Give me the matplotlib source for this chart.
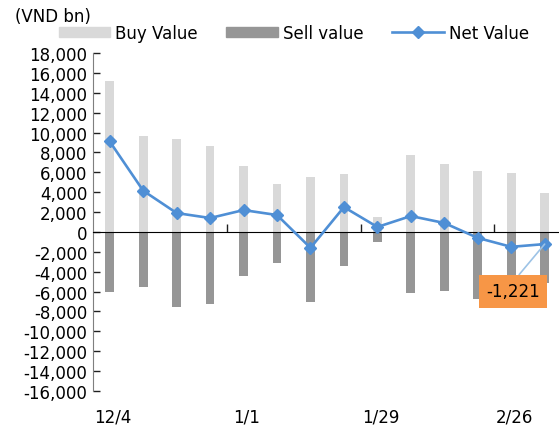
import numpy as np
import matplotlib
matplotlib.use('Agg')
import matplotlib.pyplot as plt
from matplotlib.patches import Patch
from matplotlib.lines import Line2D

plt.rcParams['font.family'] = ['DejaVu Sans Condensed', 'DejaVu Sans']

# weekly foreign trading values (VND bn)
weeks = ['12/4', '12/11', '12/18', '12/25', '1/1', '1/8', '1/15', '1/22',
         '1/29', '2/5', '2/12', '2/19', '2/26', '3/5']
buy_value = [15200, 9700, 9300, 8600, 6600, 4800, 5500, 5800, 1500, 7700, 6800, 6100, 5900, 3900]
sell_value = [-6000, -5500, -7500, -7200, -4400, -3100, -7000, -3400, -1000, -6100, -5900, -6700, -7400, -5150]
net_value = [9100, 4150, 1900, 1400, 2200, 1700, -1600, 2500, 500, 1600, 900, -600, -1500, -1221]
shown_labels = ['12/4', '1/1', '1/29', '2/26']

buy_color = '#d9d9d9'
sell_color = '#969696'
net_color = '#4f8fd5'

fig = plt.figure(figsize=(5.59, 4.27), dpi=100)
ax = fig.add_axes([93 / 559, 35 / 427, 468.4 / 559, 338 / 427])

x = np.arange(len(weeks))
ax.bar(x, buy_value, width=0.26, color=buy_color, zorder=2)
ax.bar(x, sell_value, width=0.26, color=sell_color, zorder=2)
ax.plot(x, net_value, color=net_color, lw=1.9, marker='D', ms=6.5, zorder=4)

ax.set_xlim(-0.5, len(weeks) - 0.5)
ax.set_ylim(-16000, 18000)
ax.set_yticks(np.arange(-16000, 18001, 2000))
ax.yaxis.set_major_formatter(matplotlib.ticker.FuncFormatter(lambda v, p: '{:,.0f}'.format(v)))
ax.tick_params(axis='y', direction='in', length=5, width=1, color='#202020', labelsize=12, pad=4)

# category axis drawn on the zero line, labels kept at the bottom
for s in ['top', 'right']:
    ax.spines[s].set_visible(False)
ax.spines['left'].set_color('#7f7f7f')
ax.spines['bottom'].set_position(('data', 0))
ax.spines['bottom'].set_color('black')
ax.set_xticks([3.5, 7.5, 11.5])
ax.tick_params(axis='x', direction='in', length=6, width=1, color='#202020', labelbottom=False)
for lab in shown_labels:
    ax.text(weeks.index(lab) + 0.1, -0.074, lab, transform=ax.get_xaxis_transform(),
            ha='center', va='center', fontsize=12)

# data label for the latest week
ax.annotate('{:,.0f}'.format(net_value[-1]), xy=(x[-1], net_value[-1]), xytext=(12.05, -5950),
            ha='center', va='center', fontsize=12, zorder=5,
            bbox=dict(boxstyle='square,pad=0.45', fc='#f79646', ec='none'),
            arrowprops=dict(arrowstyle='-', color='#9dc3e6', lw=1.2, shrinkA=0, shrinkB=0,
                            relpos=(0.5, 1.0)))

fig.text(15 / 559, 1 - 17 / 427, '(VND bn)', ha='left', va='center', fontsize=12)

handles = [Patch(color=buy_color), Patch(color=sell_color),
           Line2D([], [], color=net_color, lw=1.9, marker='D', ms=6.5)]
fig.legend(handles, ['Buy Value', 'Sell value', 'Net Value'], ncol=3, frameon=False,
           loc='center left', bbox_to_anchor=(52 / 559, 1 - 34 / 427), fontsize=12,
           handlelength=3.1, handleheight=0.6, handletextpad=0.3, columnspacing=1.7,
           borderaxespad=0)

fig.savefig('out.png', dpi=100)
